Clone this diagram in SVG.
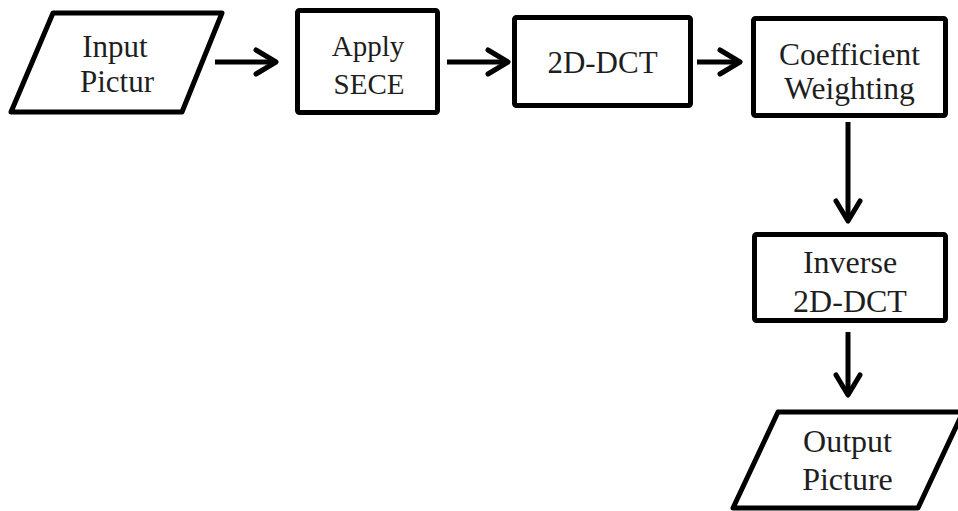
<svg xmlns="http://www.w3.org/2000/svg" width="958" height="511" viewBox="0 0 958 511">
  <style>
    .box { fill: #ffffff; stroke: #000000; stroke-width: 5; stroke-linejoin: round; }
    .lbl { font-family: "Liberation Serif", "Times New Roman", serif; font-size: 31px; fill: #1e1e1e; text-anchor: middle; }
    .conn { stroke: #000000; stroke-width: 5; fill: none; stroke-linecap: butt; marker-end: url(#arrow); }
  </style>
  <defs>
    <marker id="arrow" markerUnits="userSpaceOnUse" viewBox="-26 -16 30 32" markerWidth="30" markerHeight="32" refX="0" refY="0" orient="auto" overflow="visible">
      <path d="M -20 -12 L 0 0 L -20 12" fill="none" stroke="#000000" stroke-width="5" stroke-linecap="round" stroke-linejoin="round"/>
    </marker>
  </defs>
  <rect width="958" height="511" fill="#ffffff"/>

  <g id="input-picture">
    <polygon class="box" points="53,13 222,13 182,112 11,112"/>
    <text class="lbl" x="115" y="57">Input</text>
    <text class="lbl" x="117" y="92">Pictur</text>
  </g>

  <g id="apply-sece">
    <rect class="box" x="297.5" y="10.5" width="140" height="102" rx="2"/>
    <text class="lbl" x="368" y="56" style="font-size:29px">Apply</text>
    <text class="lbl" x="369" y="94" style="font-size:29px">SECE</text>
  </g>

  <g id="dct">
    <rect class="box" x="514.5" y="17.5" width="176" height="88" rx="2"/>
    <text class="lbl" x="602.5" y="73">2D-DCT</text>
  </g>

  <g id="coefficient-weighting">
    <rect class="box" x="753.5" y="18.5" width="192" height="97" rx="2"/>
    <text class="lbl" x="849.5" y="65" style="font-size:31.5px">Coefficient</text>
    <text class="lbl" x="849.5" y="99" style="font-size:31.5px">Weighting</text>
  </g>

  <g id="inverse-dct">
    <rect class="box" x="754.5" y="234.5" width="191" height="86" rx="2"/>
    <text class="lbl" x="850" y="273" style="font-size:32px">Inverse</text>
    <text class="lbl" x="850" y="312" style="font-size:32px">2D-DCT</text>
  </g>

  <g id="output-picture">
    <polygon class="box" points="778,412 963,412 918,508 733,508"/>
    <text class="lbl" x="847.5" y="452" style="font-size:32px">Output</text>
    <text class="lbl" x="847.5" y="490" style="font-size:32px">Picture</text>
  </g>

  <g id="connectors">
    <line class="conn" x1="215" y1="62" x2="276" y2="62"/>
    <line class="conn" x1="447" y1="62" x2="508" y2="62"/>
    <line class="conn" x1="697" y1="62" x2="740" y2="62"/>
    <line class="conn" x1="848" y1="122" x2="848" y2="221"/>
    <line class="conn" x1="848" y1="332" x2="848" y2="395"/>
  </g>
</svg>
